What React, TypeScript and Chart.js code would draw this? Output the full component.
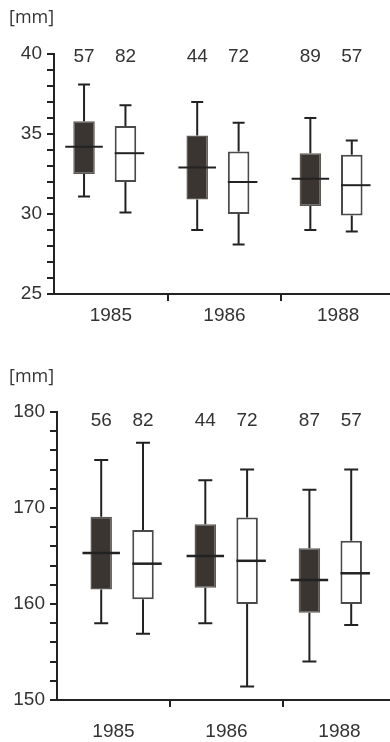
import React, { useEffect, useRef } from 'react';
import { Chart, registerables } from 'chart.js';

Chart.register(...registerables);

// ---------- data ----------
const years = ['1985', '1986', '1988'];
const unitLabel = '[mm]';

// each entry: [min, q1, median, q3, max]
const topDark = [
  [31.1, 32.5, 34.2, 35.8, 38.1],
  [29.0, 30.9, 32.9, 34.9, 37.0],
  [29.0, 30.5, 32.2, 33.8, 36.0],
];
const topWhite = [
  [30.1, 32.0, 33.8, 35.5, 36.8],
  [28.1, 30.0, 32.0, 33.9, 35.7],
  [28.9, 29.9, 31.8, 33.7, 34.6],
];
const topCountsDark = [57, 44, 89];
const topCountsWhite = [82, 72, 57];
const topYLabels = [25, 30, 35, 40];

const bottomDark = [
  [158.0, 161.5, 165.3, 169.1, 175.0],
  [158.0, 161.7, 165.0, 168.3, 172.9],
  [154.0, 159.1, 162.5, 165.8, 171.9],
];
const bottomWhite = [
  [156.9, 160.5, 164.2, 167.7, 176.8],
  [151.4, 160.0, 164.5, 169.0, 174.0],
  [157.8, 160.0, 163.2, 166.6, 174.0],
];
const bottomCountsDark = [56, 44, 87];
const bottomCountsWhite = [82, 72, 57];
const bottomYLabels = [150, 160, 170, 180];

// ---------- styling ----------
const FONT = '"Liberation Sans", Arial, Helvetica, sans-serif';
const INK = '#222';
const TEXT = '#333';

type Cfg = {
  top: number;
  width: number;
  height: number;
  yWidth: number;
  padTop: number;
  xHeight: number;
  yMin: number;
  yMax: number;
  yStep: number;
  yLabels: number[];
  xbMin: number;
  xbMax: number;
  catPct: number;
  barPct: number;
  dark: number[][];
  white: number[][];
  countsDark: number[];
  countsWhite: number[];
  countDy: number;
  unitY: number;
  labelPad: number;
  cap: number;
  medianWidth: number;
};

function makeBoxPlugin(cfg: Cfg) {
  return {
    id: 'boxExtras',
    afterDatasetsDraw(chart: any) {
      const ctx: CanvasRenderingContext2D = chart.ctx;
      const y = chart.scales.y;
      const area = chart.chartArea;
      const stats = [cfg.dark, cfg.white];
      const counts = [cfg.countsDark, cfg.countsWhite];
      ctx.save();
      chart.data.datasets.forEach((_ds: any, di: number) => {
        const meta = chart.getDatasetMeta(di);
        meta.data.forEach((el: any, i: number) => {
          const [mn, q1, md, q3, mx] = stats[di][i];
          const x = el.x;
          const w = el.width;
          const pMin = y.getPixelForValue(mn);
          const pQ1 = y.getPixelForValue(q1);
          const pMd = y.getPixelForValue(md);
          const pQ3 = y.getPixelForValue(q3);
          const pMax = y.getPixelForValue(mx);
          ctx.strokeStyle = INK;
          ctx.lineWidth = 2;
          ctx.lineCap = 'butt';
          ctx.beginPath();
          ctx.moveTo(x, pQ3);
          ctx.lineTo(x, pMax);
          ctx.moveTo(x, pQ1);
          ctx.lineTo(x, pMin);
          ctx.moveTo(x - cfg.cap / 2, pMax);
          ctx.lineTo(x + cfg.cap / 2, pMax);
          ctx.moveTo(x - cfg.cap / 2, pMin);
          ctx.lineTo(x + cfg.cap / 2, pMin);
          ctx.stroke();
          // median
          const left = di === 0 ? x - w / 2 - 8 : x - w / 2;
          const right = x + w / 2 + 8;
          ctx.lineWidth = cfg.medianWidth;
          ctx.beginPath();
          ctx.moveTo(left, pMd);
          ctx.lineTo(right, pMd);
          ctx.stroke();
          // count
          ctx.fillStyle = TEXT;
          ctx.font = `19px ${FONT}`;
          ctx.textAlign = 'center';
          ctx.textBaseline = 'middle';
          ctx.fillText(String(counts[di][i]), x, area.top + cfg.countDy);
        });
      });
      ctx.fillStyle = TEXT;
      ctx.font = `18px "Open Sans", ${FONT}`;
      ctx.textAlign = 'left';
      ctx.textBaseline = 'middle';
      ctx.fillText(unitLabel, 9, cfg.unitY);
      ctx.restore();
    },
  };
}

function BoxChart({ cfg }: { cfg: Cfg }) {
  const ref = useRef<HTMLCanvasElement>(null);
  useEffect(() => {
    if (!ref.current) return;
    const mk = (rows: number[][]) => rows.map((r, i) => ({ x: i, y: [r[1], r[3]] }));
    const chart = new Chart(ref.current, {
      type: 'bar',
      data: {
        labels: years,
        datasets: [
          {
            label: 'dark',
            data: mk(cfg.dark) as any,
            xAxisID: 'xb',
            backgroundColor: '#3a3531',
            borderColor: '#5c5854',
            borderWidth: 1.5,
            borderSkipped: false,
            categoryPercentage: cfg.catPct,
            barPercentage: cfg.barPct,
          },
          {
            label: 'white',
            data: mk(cfg.white) as any,
            xAxisID: 'xb',
            backgroundColor: '#ffffff',
            borderColor: '#4a4a4a',
            borderWidth: 2,
            borderSkipped: false,
            categoryPercentage: cfg.catPct,
            barPercentage: cfg.barPct,
          },
        ],
      },
      options: {
        responsive: false,
        devicePixelRatio: 1,
        animation: false,
        layout: { padding: { top: cfg.padTop, left: 0, right: 0, bottom: 0 } },
        plugins: { legend: { display: false }, tooltip: { enabled: false } },
        scales: {
          x: {
            type: 'category',
            position: 'bottom',
            offset: true,
            grid: {
              display: true,
              drawOnChartArea: false,
              offset: true,
              drawTicks: true,
              tickLength: 7,
              lineWidth: 2,
              color: (c: any) => (c.index === 0 ? 'rgba(0,0,0,0)' : INK),
            },
            border: { display: true, color: INK, width: 2 },
            ticks: { color: TEXT, font: { size: 19, family: FONT }, padding: cfg.labelPad, maxRotation: 0 },
            afterFit: (s: any) => {
              s.height = cfg.xHeight;
            },
          },
          xb: {
            type: 'linear',
            axis: 'x',
            position: 'bottom',
            display: false,
            offset: false,
            min: cfg.xbMin,
            max: cfg.xbMax,
            afterBuildTicks: (s: any) => {
              s.ticks = [0, 1, 2].map((v) => ({ value: v }));
            },
          },
          y: {
            type: 'linear',
            position: 'left',
            min: cfg.yMin,
            max: cfg.yMax,
            grid: {
              display: true,
              drawOnChartArea: false,
              drawTicks: true,
              tickLength: 7,
              lineWidth: 2,
              color: INK,
            },
            border: { display: true, color: INK, width: 2 },
            ticks: {
              stepSize: cfg.yStep,
              autoSkip: false,
              padding: 5,
              color: TEXT,
              font: { size: 19, family: FONT },
              callback: (v: any) => (cfg.yLabels.includes(Number(v)) ? String(v) : ''),
            },
            afterFit: (s: any) => {
              s.width = cfg.yWidth;
            },
          },
        } as any,
      },
      plugins: [makeBoxPlugin(cfg)],
    });
    return () => chart.destroy();
  }, [cfg]);
  return (
    <div style={{ position: 'absolute', left: 0, top: cfg.top, width: cfg.width, height: cfg.height }}>
      <canvas ref={ref} width={cfg.width} height={cfg.height} style={{ display: 'block' }} />
    </div>
  );
}

const topCfg: Cfg = {
  top: 0,
  width: 395,
  height: 330,
  yWidth: 54,
  padTop: 54,
  xHeight: 36,
  yMin: 25,
  yMax: 40,
  yStep: 1,
  yLabels: topYLabels,
  xbMin: -0.4485,
  xbMax: 2.565,
  catPct: 0.732,
  barPct: 0.52,
  dark: topDark,
  white: topWhite,
  countsDark: topCountsDark,
  countsWhite: topCountsWhite,
  countDy: 3,
  unitY: 18,
  labelPad: 3,
  cap: 12,
  medianWidth: 2,
};

const bottomCfg: Cfg = {
  top: 350,
  width: 396,
  height: 392,
  yWidth: 57,
  padTop: 62,
  xHeight: 42,
  yMin: 150,
  yMax: 180,
  yStep: 2,
  yLabels: bottomYLabels,
  xbMin: -0.6254,
  xbMax: 2.631,
  catPct: 0.803,
  barPct: 0.514,
  dark: bottomDark,
  white: bottomWhite,
  countsDark: bottomCountsDark,
  countsWhite: bottomCountsWhite,
  countDy: 9,
  unitY: 26.5,
  labelPad: 13,
  cap: 14,
  medianWidth: 2.5,
};

export default function App() {
  return (
    <div
      style={{
        position: 'fixed',
        left: 0,
        top: 0,
        width: 390,
        height: 742,
        overflow: 'hidden',
        background: '#fff',
      }}
    >
      <BoxChart cfg={topCfg} />
      <BoxChart cfg={bottomCfg} />
    </div>
  );
}
